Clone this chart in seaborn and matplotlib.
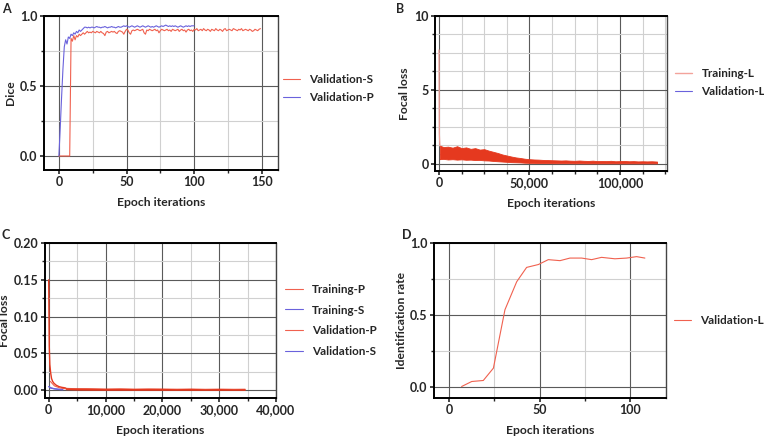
import numpy as np
import seaborn as sns
import matplotlib.pyplot as plt
from matplotlib.ticker import MultipleLocator, FuncFormatter

# ---------------------------------------------------------------- data
# A: Dice per epoch
a_val_p = [0.00, 0.20, 0.42, 0.62, 0.78, 0.83, 0.80, 0.85, 0.84, 0.87,
           0.86, 0.88, 0.87, 0.89, 0.88, 0.90, 0.89, 0.90, 0.91, 0.92,
           0.92, 0.915, 0.92, 0.915, 0.92, 0.92, 0.915, 0.92, 0.925, 0.92,
           0.92, 0.915, 0.92, 0.92, 0.925, 0.92, 0.915, 0.92, 0.92, 0.925,
           0.92, 0.92, 0.915, 0.92, 0.925, 0.92, 0.92, 0.925, 0.93, 0.925,
           0.93, 0.925, 0.92, 0.925, 0.93, 0.925, 0.92, 0.925, 0.93, 0.925,
           0.92, 0.925, 0.93, 0.925, 0.92, 0.925, 0.93, 0.925, 0.92, 0.925,
           0.92, 0.925, 0.93, 0.925, 0.92, 0.925, 0.93, 0.925, 0.93, 0.935,
           0.93, 0.925, 0.93, 0.925, 0.93, 0.925, 0.93, 0.925, 0.92, 0.925,
           0.93, 0.925, 0.92, 0.925, 0.93, 0.925, 0.93, 0.925, 0.93, 0.93, 0.93]
a_val_s = [0, 0, 0, 0, 0, 0, 0, 0, 0,
           0.84, 0.82, 0.86, 0.83, 0.86, 0.85, 0.87, 0.86, 0.87, 0.88, 0.87,
           0.88, 0.89, 0.88, 0.885, 0.88, 0.89, 0.885, 0.88, 0.89, 0.885,
           0.88, 0.89, 0.88, 0.875, 0.86, 0.885, 0.89, 0.88, 0.885, 0.89,
           0.885, 0.89, 0.88, 0.875, 0.89, 0.895, 0.89, 0.885, 0.87, 0.89,
           0.905, 0.90, 0.88, 0.87, 0.895, 0.90, 0.895, 0.90, 0.905, 0.90,
           0.895, 0.90, 0.905, 0.88, 0.87, 0.90, 0.895, 0.905, 0.90, 0.895,
           0.90, 0.905, 0.895, 0.90, 0.88, 0.895, 0.905, 0.90, 0.895, 0.90,
           0.905, 0.895, 0.90, 0.89, 0.905, 0.90, 0.895, 0.90, 0.905, 0.89,
           0.90, 0.905, 0.895, 0.90, 0.885, 0.90, 0.905, 0.895, 0.90, 0.89,
           0.905, 0.90, 0.91, 0.895, 0.90, 0.905, 0.895, 0.91, 0.90, 0.895,
           0.905, 0.90, 0.89, 0.905, 0.90, 0.895, 0.91, 0.90, 0.895, 0.905,
           0.90, 0.89, 0.905, 0.91, 0.895, 0.90, 0.905, 0.90, 0.895, 0.91,
           0.905, 0.90, 0.895, 0.905, 0.90, 0.91, 0.895, 0.90, 0.905, 0.90,
           0.895, 0.905, 0.90, 0.89, 0.895, 0.905, 0.90, 0.895, 0.905, 0.91]
a_epoch_p = list(range(len(a_val_p)))
a_epoch_s = list(range(len(a_val_s)))

# B: focal loss, training-L band (upper / lower envelope) + initial spike
b_iter = [500, 2500, 5000, 7500, 10000, 12500, 15000, 17500, 20000, 22500,
          25000, 27500, 30000, 32500, 35000, 37500, 40000, 42500, 45000, 47500,
          50000, 52500, 55000, 57500, 60000, 62500, 65000, 67500, 70000, 72500,
          75000, 77500, 80000, 82500, 85000, 87500, 90000, 92500, 95000, 97500,
          100000, 102500, 105000, 107500, 110000, 112500, 115000, 117500, 120500]
b_train_hi = [1.22, 1.12, 1.15, 1.08, 1.18, 1.05, 1.10, 1.00, 1.05, 0.95,
              0.98, 0.88, 0.80, 0.72, 0.62, 0.55, 0.48, 0.42, 0.38, 0.33,
              0.30, 0.28, 0.27, 0.25, 0.24, 0.23, 0.22, 0.21, 0.22, 0.20,
              0.19, 0.21, 0.19, 0.18, 0.20, 0.17, 0.18, 0.17, 0.19, 0.16,
              0.17, 0.18, 0.16, 0.17, 0.15, 0.16, 0.15, 0.16, 0.14]
b_train_lo = [0.30, 0.32, 0.28, 0.30, 0.27, 0.29, 0.26, 0.27, 0.24, 0.25,
              0.22, 0.21, 0.18, 0.16, 0.14, 0.12, 0.10, 0.09, 0.08, 0.06,
              0.05, 0.05, 0.04, 0.04, 0.04, 0.03, 0.03, 0.03, 0.03, 0.03,
              0.02, 0.03, 0.02, 0.02, 0.02, 0.02, 0.02, 0.02, 0.02, 0.02,
              0.02, 0.02, 0.02, 0.02, 0.02, 0.02, 0.02, 0.02, 0.02]
b_spike_iter = [0, 200, 500]
b_spike_loss = [7.7, 2.0, 1.2]
b_val_iter = [1000, 20000, 40000, 60000, 80000, 100000, 120000]
b_val_loss = [0.6, 0.5, 0.25, 0.1, 0.08, 0.07, 0.07]

# C: focal loss
c_train_p_iter = [0, 100, 200, 350, 500, 700, 930, 1300, 1800, 2300, 2700, 3000]
c_train_p_loss = [0.15, 0.06, 0.035, 0.0235, 0.016, 0.012, 0.0095, 0.007, 0.005, 0.004, 0.0035, 0.003]
c_tail_iter = [3000, 5000, 7500, 10000, 12500, 15000, 17500, 20000, 22500, 25000,
               27500, 30000, 32500, 34500]
c_tail_hi = [0.0035, 0.0030, 0.0028, 0.0025, 0.0027, 0.0024, 0.0026, 0.0025, 0.0023, 0.0025,
             0.0022, 0.0024, 0.0022, 0.0023]
c_tail_lo = [0.0012, 0.0008, 0.0006, 0.0005, 0.0005, 0.0004, 0.0004, 0.0004, 0.0003, 0.0003,
             0.0003, 0.0003, 0.0003, 0.0003]
c_train_s_iter = [0, 200, 500, 1000, 1500, 2000, 2500]
c_train_s_loss = [0.005, 0.004, 0.003, 0.002, 0.0015, 0.001, 0.0008]
c_val_p_iter = [300, 1000, 2000, 3000]
c_val_p_loss = [0.012, 0.006, 0.003, 0.002]
c_val_s_iter = [300, 1000, 2000]
c_val_s_loss = [0.003, 0.002, 0.001]

# D: identification rate
d_epoch = [6.8, 12.4, 18.8, 24.4, 30.8, 37.3, 42.8, 49.3, 54.8, 61.3,
           66.8, 73.3, 78.8, 84.3, 91.7, 98.2, 103.7, 108.3]
d_rate = [0.0, 0.035, 0.042, 0.128, 0.535, 0.73, 0.83, 0.85, 0.884, 0.877,
          0.895, 0.895, 0.884, 0.90, 0.89, 0.895, 0.905, 0.895]

# ---------------------------------------------------------------- style
sns.set_theme(style="ticks")
plt.rcParams['font.family'] = ['Lato', 'DejaVu Sans']
plt.rcParams['font.weight'] = 'bold'
plt.rcParams['axes.labelweight'] = 'bold'
fs = 9
lfs = 8.4
red = "#f0614f"
band = "#e5391f"
blue = "#6a62dc"

fig = plt.figure(figsize=(7.64, 4.36), dpi=100)
W, H = 764, 436


def make_ax(l, t, r, b):
    return fig.add_axes([l / W, 1 - b / H, (r - l) / W, (b - t) / H])


axA = make_ax(44, 16, 278, 170)
axB = make_ax(435, 16, 667, 171)
axC = make_ax(45, 243, 276, 398)
axD = make_ax(434, 243, 666, 398)


def style(ax, xmaj, xmin, ymaj, ymin):
    ax.xaxis.set_major_locator(MultipleLocator(xmaj))
    ax.xaxis.set_minor_locator(MultipleLocator(xmin))
    ax.yaxis.set_major_locator(MultipleLocator(ymaj))
    ax.yaxis.set_minor_locator(MultipleLocator(ymin))
    ax.grid(which='major', color='#5a5a5a', lw=0.8)
    ax.grid(which='minor', color='#d0d0d0', lw=0.8)
    ax.set_axisbelow(True)
    for s in ['left', 'bottom', 'top']:
        ax.spines[s].set_linewidth(1.4)
        ax.spines[s].set_color('black')
    ax.spines['right'].set_linewidth(1.0)
    ax.spines['right'].set_color('#444444')
    ax.tick_params(which='major', length=3, width=1.2, labelsize=fs, pad=1.5)
    ax.tick_params(which='minor', length=2, width=1.0)
    ax.set_xlabel("Epoch iterations", fontsize=lfs + 0.3, fontweight='bold', labelpad=6)


def legend(ax, xa, ya, spacing):
    ax.legend(loc='center left', bbox_to_anchor=(xa, ya), frameon=False,
              fontsize=lfs, handlelength=1.5, handletextpad=0.8, labelspacing=spacing,
              borderpad=0, borderaxespad=0)


comma = FuncFormatter(lambda v, p: "{:,.0f}".format(v))

# A
sns.lineplot(x=a_epoch_s, y=a_val_s, ax=axA, color=red, lw=0.8, label="Validation-S")
sns.lineplot(x=a_epoch_p, y=a_val_p, ax=axA, color=blue, lw=0.8, label="Validation-P")
axA.set_xlim(-11, 162)
axA.set_ylim(-0.1, 1.0)
style(axA, 50, 25, 0.5, 0.25)
axA.yaxis.set_major_formatter(FuncFormatter(lambda v, p: "{:.1f}".format(v)))
axA.set_ylabel("Dice", fontsize=lfs + 0.3, labelpad=3)
legend(axA, 1.02, 0.53, 0.55)

# B
sns.lineplot(x=b_val_iter, y=b_val_loss, ax=axB, color=blue, lw=0.8, zorder=1)
axB.fill_between(b_iter, b_train_lo, b_train_hi, color=band, lw=0.6, zorder=2)
sns.lineplot(x=b_spike_iter, y=b_spike_loss, ax=axB, color="#f3a39b", lw=0.9, zorder=3)
axB.plot([], [], color="#f3a39b", lw=1.0, label="Training-L")
axB.plot([], [], color=blue, lw=0.8, label="Validation-L")
axB.set_xlim(-2200, 126000)
axB.set_ylim(-0.5, 10)
style(axB, 50000, 12500, 5, 1.25)
axB.xaxis.set_major_formatter(comma)
axB.set_ylabel("Focal loss", fontsize=lfs + 0.3, labelpad=3)
legend(axB, 1.033, 0.57, 0.55)

# C
sns.lineplot(x=c_val_s_iter, y=c_val_s_loss, ax=axC, color=blue, lw=0.8, zorder=1)
sns.lineplot(x=c_val_p_iter, y=c_val_p_loss, ax=axC, color=red, lw=0.8, zorder=1)
axC.fill_between(c_tail_iter, c_tail_lo, c_tail_hi, color=band, lw=0.5, zorder=2)
sns.lineplot(x=c_train_p_iter, y=c_train_p_loss, ax=axC, color=band, lw=1.0, zorder=3)
sns.lineplot(x=c_train_s_iter, y=c_train_s_loss, ax=axC, color=blue, lw=1.0, zorder=4)
axC.plot([], [], color=red, lw=0.8, label="Training-P")
axC.plot([], [], color=blue, lw=0.8, label="Training-S")
axC.plot([], [], color=red, lw=0.8, label="Validation-P")
axC.plot([], [], color=blue, lw=0.8, label="Validation-S")
axC.set_xlim(-650, 40000)
axC.set_ylim(-0.0105, 0.2)
style(axC, 10000, 5000, 0.05, 0.025)
axC.xaxis.set_major_formatter(comma)
axC.yaxis.set_major_formatter(FuncFormatter(lambda v, p: "{:.2f}".format(v)))
axC.set_ylabel("Focal loss", fontsize=lfs + 0.3, labelpad=3)
legend(axC, 1.04, 0.5, 0.85)

# D
sns.lineplot(x=d_epoch, y=d_rate, ax=axD, color=red, lw=0.8, label="Validation-L")
axD.set_xlim(-8.5, 120)
axD.set_ylim(-0.08, 1.0)
style(axD, 50, 25, 0.5, 0.25)
axD.yaxis.set_major_formatter(FuncFormatter(lambda v, p: "{:.1f}".format(v)))
axD.set_ylabel("Identification rate", fontsize=lfs + 0.3, labelpad=2)
legend(axD, 1.033, 0.5, 0.55)

for ax in [axA, axB, axC, axD]:
    plt.setp(ax.get_xticklabels() + ax.get_yticklabels(), fontweight='bold')

# panel letters
for letter, x, y in [("A", 2, 3), ("B", 396, 3), ("C", 2, 229), ("D", 402, 229)]:
    fig.text(x / W, 1 - y / H, letter, fontsize=fs, fontweight='bold', va='top', ha='left')

fig.savefig("out.png", dpi=100)
